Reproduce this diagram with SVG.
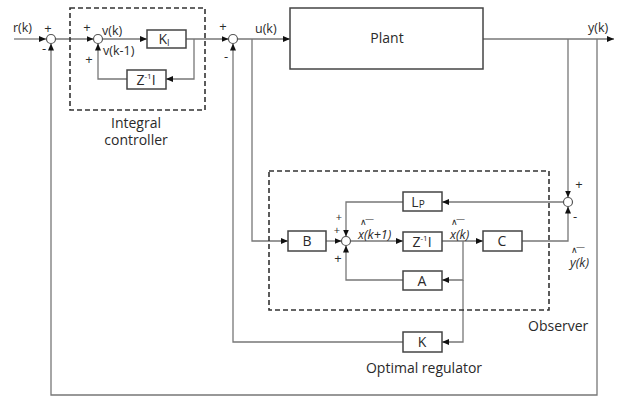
<svg xmlns="http://www.w3.org/2000/svg" width="622" height="396" viewBox="0 0 622 396">
<style>
text{font-family:"Open Sans","Noto Sans","Liberation Sans",sans-serif;fill:#2a2a2a;}
.lbl{font-size:12.5px;}
.big{font-size:14px;}
.sgn{font-size:13px;text-anchor:middle;}
.sgs{font-size:11px;text-anchor:middle;}
.box{fill:#fff;stroke:#444;stroke-width:1.5;}
.dash{fill:none;stroke:#333;stroke-width:1.6;stroke-dasharray:5,3;}
.sum{fill:#fff;stroke:#555;stroke-width:1.2;}
.wire{fill:none;stroke:#777;stroke-width:1.3;}
.arr{marker-end:url(#ah);}
.bt{font-size:14px;text-anchor:middle;}
.hat{font-size:9px;}
</style>
<defs>
<marker id="ah" markerUnits="userSpaceOnUse" markerWidth="7" markerHeight="6" refX="7" refY="3" orient="auto">
<path d="M0,0 L7,3 L0,6 z" fill="#111"/>
</marker>
</defs>
<rect width="622" height="396" fill="#fff"/>

<g id="connectors">
<path class="wire arr" d="M14,39 H46"/>
<path class="wire arr" d="M55.5,39 H93.5"/>
<path class="wire arr" d="M102.5,39 H147"/>
<path class="wire arr" d="M186,39 H228.5"/>
<path class="wire arr" d="M194,39 V79 H166"/>
<path class="wire arr" d="M127,79 H98 V43.5"/>
<path class="wire arr" d="M237.5,39 H290"/>
<path class="wire arr" d="M252,39 V241 H288"/>
<path class="wire arr" d="M483,39 H614"/>
<path class="wire arr" d="M568,39 V197.5"/>
<path class="wire arr" d="M597,39 V395 H51 V43.5"/>
<path class="wire arr" d="M563.5,202 H442"/>
<path class="wire arr" d="M403,202 H346 V236.5"/>
<path class="wire arr" d="M326,241 H341.5"/>
<path class="wire arr" d="M350.5,241 H403"/>
<path class="wire arr" d="M442,241 H483"/>
<path class="wire arr" d="M463,241 V280 H442"/>
<path class="wire arr" d="M463,280 V342 H442"/>
<path class="wire arr" d="M403,280 H346 V245.5"/>
<path class="wire arr" d="M522,241 H568 V206.5"/>
<path class="wire arr" d="M403,342 H233 V43.5"/>
</g>

<text class="lbl" x="13" y="32">r(k)</text>
<g id="sum1"><circle class="sum" cx="51" cy="39" r="4.5"/><text class="sgn" x="48" y="33">+</text><text class="sgn" x="44" y="53">-</text></g>
<g id="integral-controller">
<rect class="dash" x="70" y="8" width="135" height="102"/>
<text class="big" x="136" y="128" text-anchor="middle">Integral</text>
<text class="big" x="136" y="145" text-anchor="middle">controller</text>
</g>
<g id="sum2"><circle class="sum" cx="98" cy="39" r="4.5"/><text class="sgn" x="87" y="32">+</text><text class="sgn" x="89" y="64">+</text>
<text class="lbl" x="102" y="35">v(k)</text><text class="lbl" x="103" y="55">v(k-1)</text></g>
<g id="KI"><rect class="box" x="147" y="30" width="39" height="18"/><text class="bt" x="164" y="44">K<tspan font-size="9" dy="2">I</tspan></text></g>
<g id="Zint"><rect class="box" x="127" y="70" width="39" height="19"/><text class="bt" x="146" y="85">Z<tspan font-size="8" dy="-6">-1</tspan><tspan dy="6">I</tspan></text></g>
<g id="sum3"><circle class="sum" cx="233" cy="39" r="4.5"/><text class="sgn" x="223" y="31">+</text><text class="sgn" x="226" y="61">-</text></g>
<text class="lbl" x="255" y="33">u(k)</text>
<g id="plant"><rect class="box" x="290" y="8" width="193" height="61"/><text class="bt" x="387" y="43">Plant</text></g>
<text class="lbl" x="588" y="32">y(k)</text>

<g id="observer">
<rect class="dash" x="269" y="171" width="280" height="139"/>
<text class="big" x="528" y="331">Observer</text>
</g>
<g id="sum5"><circle class="sum" cx="568" cy="202" r="4.5"/><text class="sgn" x="579" y="189">+</text><text class="sgn" x="575" y="221">-</text></g>
<g id="LP"><rect class="box" x="403" y="192" width="39" height="19"/><text class="bt" x="418" y="207">L<tspan font-size="10" dy="1">P</tspan></text></g>
<g id="B"><rect class="box" x="288" y="231" width="38" height="20"/><text class="bt" x="307" y="246">B</text></g>
<g id="sum4"><circle class="sum" cx="346" cy="241" r="4.5"/><text class="sgs" x="339" y="221">+</text><text class="sgs" x="337" y="234">+</text><text class="sgn" x="338" y="263">+</text></g>
<g id="xk1"><text class="hat" x="360" y="225">∧<tspan dx="-2" dy="-3">—</tspan></text><text class="lbl" x="358" y="239" font-style="italic">x(k+1)</text></g>
<g id="Zobs"><rect class="box" x="403" y="232" width="39" height="19"/><text class="bt" x="422" y="247">Z<tspan font-size="8" dy="-6">-1</tspan><tspan dy="6">I</tspan></text></g>
<g id="xk"><text class="hat" x="451" y="225">∧<tspan dx="-2" dy="-3">—</tspan></text><text class="lbl" x="450" y="239" font-style="italic">x(k)</text></g>
<g id="C"><rect class="box" x="483" y="231" width="39" height="20"/><text class="bt" x="502" y="246">C</text></g>
<g id="yk"><text class="hat" x="571" y="253">∧<tspan dx="-2" dy="-3">—</tspan></text><text class="lbl" x="570" y="267" font-style="italic">y(k)</text></g>
<g id="A"><rect class="box" x="403" y="271" width="39" height="19"/><text class="bt" x="422" y="286">A</text></g>
<g id="K"><rect class="box" x="403" y="332" width="39" height="20"/><text class="bt" x="422" y="347">K</text>
<text class="big" x="424" y="373" text-anchor="middle">Optimal regulator</text></g>
</svg>
